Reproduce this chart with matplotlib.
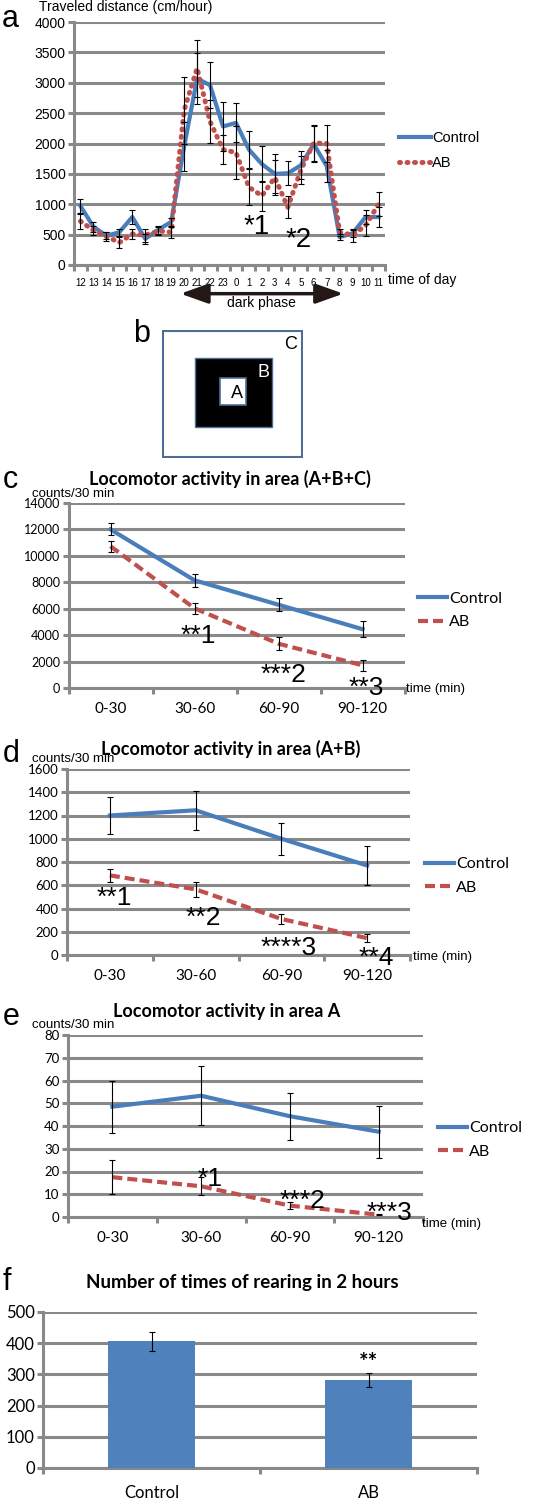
import numpy as np
import matplotlib.pyplot as plt
from matplotlib.patches import Rectangle, FancyArrowPatch

W, H = 540, 1499

# ---- data ----
hours = ['12', '13', '14', '15', '16', '17', '18', '19', '20', '21', '22', '23',
         '0', '1', '2', '3', '4', '5', '6', '7', '8', '9', '10', '11']
ctrl_a = [970, 630, 480, 540, 790, 430, 580, 710, 1950, 3070, 2960, 2280,
          2340, 1900, 1660, 1500, 1510, 1640, 1990, 1630, 460, 520, 790, 790]
ctrl_a_err = [110, 80, 60, 60, 120, 80, 70, 70, 400, 420, 380, 410,
              320, 300, 300, 320, 200, 230, 300, 270, 50, 60, 120, 160]
ab_a = [720, 570, 470, 370, 510, 490, 560, 540, 2550, 3240, 2360, 1900,
        1850, 1280, 1140, 1440, 950, 1560, 2010, 2000, 540, 490, 650, 1000]
ab_a_err = [120, 80, 70, 90, 80, 110, 70, 90, 550, 470, 350, 240,
            430, 300, 250, 290, 180, 230, 290, 310, 60, 110, 180, 200]

periods = ['0-30', '30-60', '60-90', '90-120']
ctrl_c = [12000, 8150, 6300, 4450]
ctrl_c_err = [450, 480, 480, 620]
ab_c = [10730, 6030, 3350, 1720]
ab_c_err = [420, 430, 480, 400]

ctrl_d = [1200, 1245, 1000, 770]
ctrl_d_err = [158, 168, 138, 165]
ab_d = [685, 565, 310, 145]
ab_d_err = [55, 65, 42, 35]

ctrl_e = [48.5, 53.3, 44.3, 37.5]
ctrl_e_err = [11.5, 13.0, 10.3, 11.5]
ab_e = [17.5, 13.5, 5.0, 1.0]
ab_e_err = [7.5, 4.0, 1.5, 0.3]

groups_f = ['Control', 'AB']
rearing = [406, 283]
rearing_err = [31, 22]

BLUE = '#4A7EBB'
RED = '#C0504D'
BAR = '#4F81BD'
GRID = '#898989'
SANS = ['Liberation Sans', 'DejaVu Sans']
CAL = ['Lato', 'DejaVu Sans']

fig = plt.figure(figsize=(W / 100, H / 100), dpi=100)


def px_axes(x0, y0, x1, y1):
    return fig.add_axes([x0 / W, 1 - y1 / H, (x1 - x0) / W, (y1 - y0) / H])


def ftext(x, y, s, **kw):
    kw.setdefault('va', 'baseline')
    fig.text(x / W, 1 - y / H, s, **kw)


def style(ax, n, ylim, ystep, labels, yfont, xfont, xpad):
    ax.set_xlim(-0.5, n - 0.5)
    ax.set_ylim(*ylim)
    ax.set_yticks(np.arange(ylim[0], ylim[1] + ystep / 2, ystep))
    for s in ['top', 'right']:
        ax.spines[s].set_visible(False)
    for s in ['left', 'bottom']:
        ax.spines[s].set_color(GRID)
        ax.spines[s].set_linewidth(2.2)
    ax.yaxis.grid(True, color=GRID, lw=2.2)
    ax.set_axisbelow(True)
    ax.set_xticks(np.arange(-0.5, n, 1.0))
    ax.set_xticklabels([])
    ax.set_xticks(np.arange(n), minor=True)
    ax.set_xticklabels(labels, minor=True)
    ax.tick_params(axis='x', which='major', length=4, width=2.2, color=GRID, direction='out')
    ax.tick_params(axis='x', which='minor', length=0, pad=xpad)
    ax.tick_params(axis='y', length=4, width=2.2, color=GRID, pad=2)
    for t in ax.get_yticklabels():
        t.set_fontfamily(yfont[0])
        t.set_fontsize(yfont[1])
    for t in ax.get_xticklabels(minor=True):
        t.set_fontfamily(xfont[0])
        t.set_fontsize(xfont[1])


def err(ax, x, y, e):
    ax.errorbar(x, y, yerr=e, fmt='none', ecolor='black', elinewidth=0.8,
                capsize=2, capthick=0.8, zorder=5)


# ---- panel a ----
ax = px_axes(74, 22, 385, 265)
xa = np.arange(len(hours))
ax.plot(xa, ctrl_a, color=BLUE, lw=3, solid_joinstyle='round', label='Control', zorder=3)
ax.plot(xa, ab_a, color=RED, lw=3.6, linestyle=(0, (0.2, 1.3)), dash_capstyle='round',
        label='AB', zorder=4)
err(ax, xa, ctrl_a, ctrl_a_err)
err(ax, xa, ab_a, ab_a_err)
style(ax, len(hours), (0, 4000), 500, hours, (SANS, 10), (SANS, 7), 9)
ax.legend(loc='center left', bbox_to_anchor=(1.045, 0.471), frameon=False,
          prop={'family': SANS, 'size': 10.5}, handlelength=2.2, handletextpad=0.05,
          borderpad=0, borderaxespad=0, labelspacing=0.7)
ax.text(13.6, 510, '*1', fontsize=20, family=SANS, ha='center', va='baseline')
ax.text(16.8, 296, '*2', fontsize=20, family=SANS, ha='center', va='baseline')
arr = FancyArrowPatch((7.5, -0.118), (20.5, -0.118), transform=ax.get_xaxis_transform(),
                      arrowstyle='<|-|>,head_length=1.4,head_width=0.5', mutation_scale=12,
                      color='#231815', lw=2.5, clip_on=False)
ax.add_patch(arr)
ax.text(14, -0.173, 'dark phase', transform=ax.get_xaxis_transform(), fontsize=10,
        family=SANS, ha='center', va='baseline')
ftext(388, 284, 'time of day', fontsize=10, family=SANS)
ftext(39, 11, 'Traveled distance (cm/hour)', fontsize=10, family=SANS)
ftext(2, 27, 'a', fontsize=22, family=SANS)

# ---- panel b ----
axb = px_axes(162, 330, 303, 458)
axb.set_xlim(0, 1)
axb.set_ylim(0, 1)
axb.axis('off')
axb.add_patch(Rectangle((0.005, 0.005), 0.99, 0.99, fc='white', ec='#4E6D96', lw=1.5))
axb.add_patch(Rectangle((0.234, 0.242), 0.546, 0.538, fc='black', ec='#4E6D96', lw=1))
axb.add_patch(Rectangle((0.41, 0.414), 0.186, 0.211, fc='white', ec='#4E6D96', lw=1.2))
axb.text(0.535, 0.50, 'A', fontsize=13, family=SANS, ha='center', va='center')
axb.text(0.72, 0.67, 'B', fontsize=13, family=SANS, ha='center', va='center', color='white')
axb.text(0.91, 0.89, 'C', fontsize=13, family=SANS, ha='center', va='center')
ftext(133, 342, 'b', fontsize=22, family=SANS)

xp = np.arange(len(periods))


def line_panel(box, ctrl, ctrl_e_, ab, ab_e_, ylim, ystep, yfs, legpos, sig, title,
               title_xy, letter_y, counts_y, time_xy):
    ax = px_axes(*box)
    ax.plot(xp, ctrl, color=BLUE, lw=3, label='Control', zorder=3)
    ax.plot(xp, ab, color=RED, lw=3, linestyle=(0, (2.4, 1.2)), label='AB', zorder=3)
    err(ax, xp, ctrl, ctrl_e_)
    err(ax, xp, ab, ab_e_)
    style(ax, 4, ylim, ystep, periods, (CAL, yfs), (CAL, 11), 10)
    ax.legend(loc='center left', bbox_to_anchor=legpos, frameon=False,
              prop={'family': CAL, 'size': 11.5}, handlelength=1.8, handletextpad=0.15,
              borderpad=0, borderaxespad=0, labelspacing=0.6)
    for xi, yi, s in sig:
        ax.text(xi, yi, s, fontsize=19, family=SANS, ha='center', va='baseline')
    ftext(title_xy[0], title_xy[1], title, fontsize=13, family=CAL, weight='bold', ha='center')
    ftext(3, letter_y[1], letter_y[0], fontsize=22, family=SANS)
    ftext(32, counts_y, 'counts/30 min', fontsize=9.5, family=SANS)
    ftext(time_xy[0], time_xy[1], 'time (min)', fontsize=9.5, family=SANS)
    return ax


line_panel((68.5, 503, 404.5, 688), ctrl_c, ctrl_c_err, ab_c, ab_c_err, (0, 14000), 2000, 9,
           (1.04, 0.42), [(1.05, 3400, '**1'), (2.06, 480, '***2'), (3.05, -530, '**3')],
           'Locomotor activity in area (A+B+C)', (230, 485), ('c', 488), 497, (406, 692))

line_panel((67, 769, 410, 955), ctrl_d, ctrl_d_err, ab_d, ab_d_err, (0, 1600), 200, 9.5,
           (1.044, 0.425), [(0.05, 430, '**1'), (1.09, 258, '**2'), (2.08, 0, '****3'),
                            (3.11, -86, '**4')],
           'Locomotor activity in area (A+B)', (231, 755), ('d', 762), 762, (413, 960))

line_panel((68, 1035, 423, 1217), ctrl_e, ctrl_e_err, ab_e, ab_e_err, (0, 80), 10, 9.5,
           (1.042, 0.423), [(1.1, 13.6, '*1'), (2.14, 4, '***2'), (3.12, -1.3, '***3')],
           'Locomotor activity in area A', (227, 1017), ('e', 1025), 1028, (422, 1227))

# ---- panel f ----
axf = px_axes(43, 1312, 477, 1468)
xf = np.arange(len(groups_f))
axf.bar(xf, rearing, width=0.4, color=BAR, zorder=3)
err(axf, xf, rearing, rearing_err)
style(axf, 2, (0, 500), 100, groups_f, (CAL, 12), (CAL, 12), 12)
axf.text(1, 318, '**', fontsize=16, family=CAL, weight='bold', ha='center', va='baseline')
ftext(242, 1288, 'Number of times of rearing in 2 hours', fontsize=13.5, family=CAL,
      weight='bold', ha='center')
ftext(3, 1290, 'f', fontsize=22, family=SANS)

fig.savefig('out.png', dpi=100)
